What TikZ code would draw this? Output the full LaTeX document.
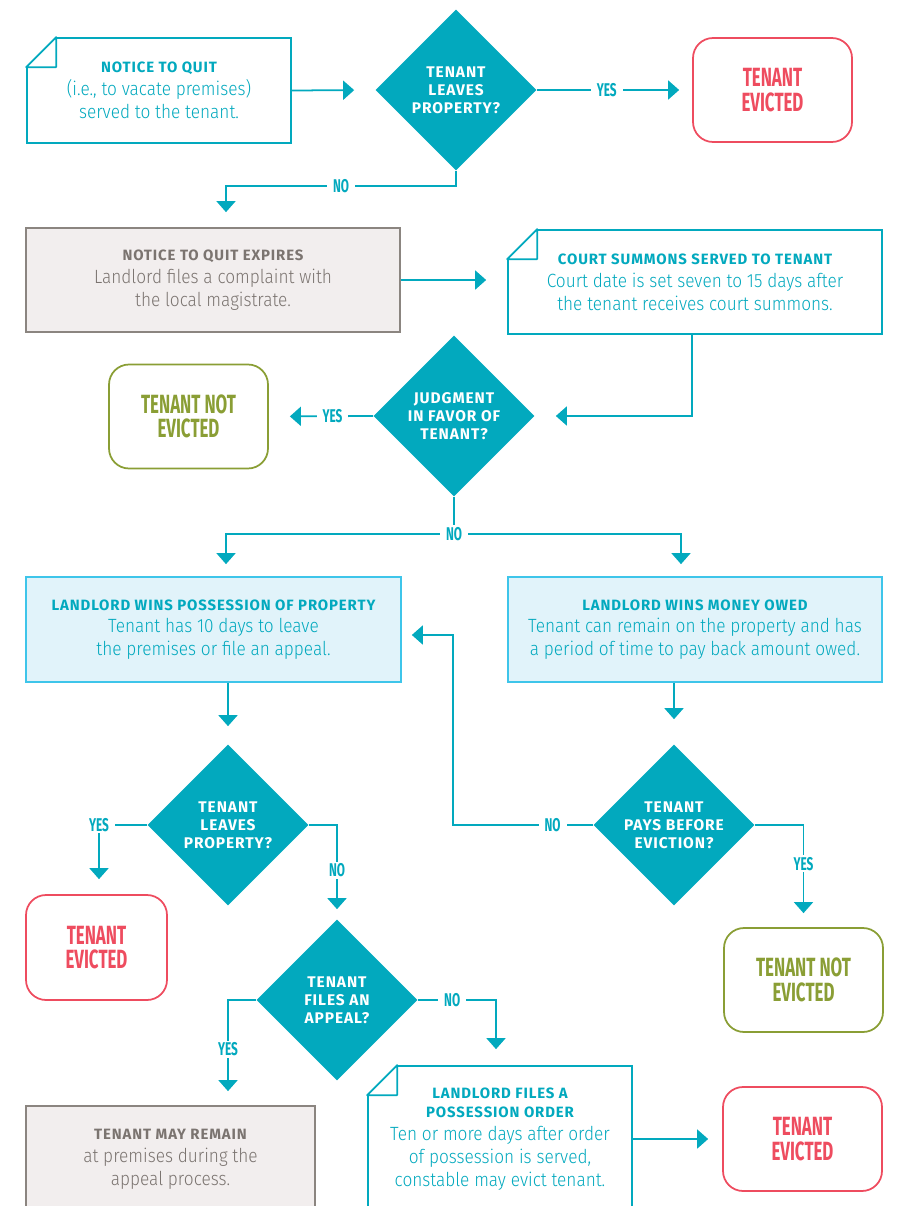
\documentclass[tikz,border=0pt]{standalone}
\usepackage{fontspec}
\setmainfont{Fira Sans}
\newfontfamily\bodyfont{Fira Sans Light}[FakeStretch=0.9]
\newfontfamily\headfont{Fira Sans}[LetterSpace=6]
\newfontfamily\condfont{Fira Sans}[FakeStretch=0.64]
\usepackage{xcolor}
\usetikzlibrary{arrows.meta}
\usetikzlibrary{shapes.geometric}
\usetikzlibrary{calc}

\definecolor{evteal}{HTML}{02A9BE}
\definecolor{evred}{HTML}{EE4C5F}
\definecolor{evgreen}{HTML}{8A9E35}
\definecolor{evgrey}{HTML}{8B8580}
\definecolor{evgreyfill}{HTML}{F2EEEE}
\definecolor{evgreytext}{HTML}{7B7470}
\definecolor{evblue}{HTML}{3EC5EA}
\definecolor{evbluefill}{HTML}{E1F3FA}

\newcommand{\hd}[1]{{\headfont\bfseries\fontsize{8.5}{13}\selectfont #1}}
% folded corner of a note box
\newcommand{\dogear}[1]{%
  \fill[white] ($(#1.north west)+(-2,-2)$) -- ($(#1.north west)+(30,-2)$) -- ($(#1.north west)+(30,0)$) -- ($(#1.north west)+(0,30)$) -- ($(#1.north west)+(-2,30)$) -- cycle;
  \draw[evteal, line width=1pt, line join=round] ($(#1.north west)+(0,30)$) -- ($(#1.north west)+(30,0)$) -- ($(#1.north west)+(30,30)$) -- cycle;}

\begin{document}
\begin{tikzpicture}[x=0.02cm, y=-0.02cm,
    box/.style={line width=1pt, minimum width=7.48cm, minimum height=2.08cm, align=center, inner sep=0pt,
      font=\bodyfont\fontsize{10.9}{13}\selectfont},
    note/.style={box, draw=evteal, fill=white, text=evteal},
    greybox/.style={box, draw=evgrey, fill=evgreyfill, text=evgreytext},
    bluebox/.style={box, draw=evblue, fill=evbluefill, text=evteal},
    endbox/.style={line width=1pt, rounded corners=0.4cm, minimum width=3.18cm, minimum height=2.08cm, align=center,
      font=\condfont\bfseries\fontsize{15}{14}\selectfont},
    evicted/.style={endbox, draw=evred, text=evred},
    spared/.style={endbox, draw=evgreen, text=evgreen},
    dia/.style={diamond, aspect=1, fill=evteal, text=white, minimum size=3.22cm, inner sep=0pt, align=center,
      font=\headfont\bfseries\fontsize{8.8}{10.3}\selectfont},
    lbl/.style={fill=white, text=evteal, inner xsep=0.12cm, inner ysep=1pt,
      font=\condfont\bfseries\fontsize{10.5}{11}\selectfont},
    line/.style={draw=evteal, line width=1pt},
    link/.style={line, -{Triangle[length=0.22cm, width=0.38cm]}}]
    \useasboundingbox (0,0) rectangle (897,1206);
    % first row
    \node[note, minimum width=5.28cm, minimum height=2.1cm] (quit) at (159,90.5)
      {\hd{NOTICE TO QUIT}\\(i.e., to vacate premises)\\served to the tenant.};
    \dogear{quit}
    \node[dia] (leaves) at (456,90) {TENANT\\LEAVES\\PROPERTY?};
    \node[evicted] (evict1) at (772.5,90) {TENANT\\EVICTED};
    % complaint and summons
    \node[greybox] (expires) at (213,280) {\hd{NOTICE TO QUIT EXPIRES}\\Landlord files a complaint with\\the local magistrate.};
    \node[note] (summons) at (695,282) {\hd{COURT SUMMONS SERVED TO TENANT}\\Court date is set seven to 15 days after\\the tenant receives court summons.};
    \dogear{summons}
    % judgment
    \node[dia] (judgment) at (454,416) {JUDGMENT\\IN FAVOR OF\\TENANT?};
    \node[spared] (notevict1) at (188.5,416.5) {TENANT NOT\\EVICTED};
    \node[bluebox, minimum width=7.5cm, minimum height=2.1cm] (possession) at (213.5,629.5)
      {\hd{LANDLORD WINS POSSESSION OF PROPERTY}\\Tenant has 10 days to leave\\the premises or file an appeal.};
    \node[bluebox, minimum height=2.1cm] (money) at (695,629.5)
      {\hd{LANDLORD WINS MONEY OWED}\\Tenant can remain on the property and has\\a period of time to pay back amount owed.};
    % lower questions
    \node[dia] (leaves2) at (228,825) {TENANT\\LEAVES\\PROPERTY?};
    \node[dia] (pays) at (674,825) {TENANT\\PAYS BEFORE\\EVICTION?};
    \node[evicted, minimum width=2.82cm, minimum height=2.1cm] (evict2) at (96.5,947.5) {TENANT\\EVICTED};
    \node[spared] (notevict2) at (803.5,980) {TENANT NOT\\EVICTED};
    \node[dia] (appeal) at (337,1000) {TENANT\\FILES AN\\APPEAL?};
    \node[greybox, minimum width=5.78cm, minimum height=2.12cm] (remain) at (170.5,1159)
      {\hd{TENANT MAY REMAIN}\\at premises during the\\appeal process.};
    \node[note, minimum width=5.28cm, minimum height=2.92cm] (order) at (500,1139)
      {\hd{LANDLORD FILES A}\\[-2pt]\hd{POSSESSION ORDER}\\Ten or more days after order\\of possession is served,\\constable may evict tenant.};
    \dogear{order}
    \node[evicted] (evict3) at (802.5,1139) {TENANT\\EVICTED};

    % connectors
    \draw[link, shorten >=0.42cm] (quit.east) -- (leaves.west);
    \draw[link, shorten >=0.26cm] (leaves.east) -- node[lbl, pos=0.45] {YES} (evict1.west);
    \draw[link, shorten >=0.3cm] (leaves.south) -- ++(0,15) -| node[lbl, pos=0.25] {NO} ($(expires.north)+(13,0)$);
    \draw[link, shorten >=0.42cm] (expires.east) -- (expires.east -| summons.west);
    \draw[link, shorten >=0.42cm] ($(summons.south)+(-3,0)$) |- (judgment.east);
    \draw[link, shorten >=0.42cm] (judgment.west) -- node[lbl, pos=0.39] {YES} (notevict1.east);
    \draw[line] (judgment.south) -- ++(0,37) coordinate (split);
    \draw[link, shorten >=0.24cm] (split) -| ($(possession.north)+(12.5,0)$);
    \draw[link, shorten >=0.24cm] (split) -| ($(money.north)+(-14,0)$);
    \node[lbl] (nojudg) at (split) {NO};
    \draw[link, shorten >=0.36cm] (leaves2.north |- possession.south) -- (leaves2.north);
    \draw[link, shorten >=0.5cm] (pays.north |- money.south) -- (pays.north);
    \draw[link, shorten >=0.3cm] (leaves2.west) -| node[lbl, pos=0.5] {YES} ($(evict2.north)+(2.5,0)$);
    \draw[link, shorten >=0.2cm] (leaves2.east) -| node[lbl, pos=0.74] {NO} (appeal.north);
    \draw[link, shorten >=0.28cm] (pays.east) -| node[lbl, pos=0.69] {YES} (notevict2.north);
    \draw[link, shorten >=0.2cm] (pays.west) -- node[lbl, pos=0.29] {NO} ++(-140,0) |- ($(possession.east)+(0,5.5)$);
    \draw[link, shorten >=0.28cm] (appeal.west) -| node[lbl, pos=0.735] {YES} ($(remain.north)+(57.5,0)$);
    \draw[link, shorten >=0.32cm] (appeal.east) -| node[lbl, pos=0.22] {NO} ($(order.north)+(-4,0)$);
    \draw[link, shorten >=0.28cm] (order.east) -- (evict3.west);
\end{tikzpicture}
\end{document}
